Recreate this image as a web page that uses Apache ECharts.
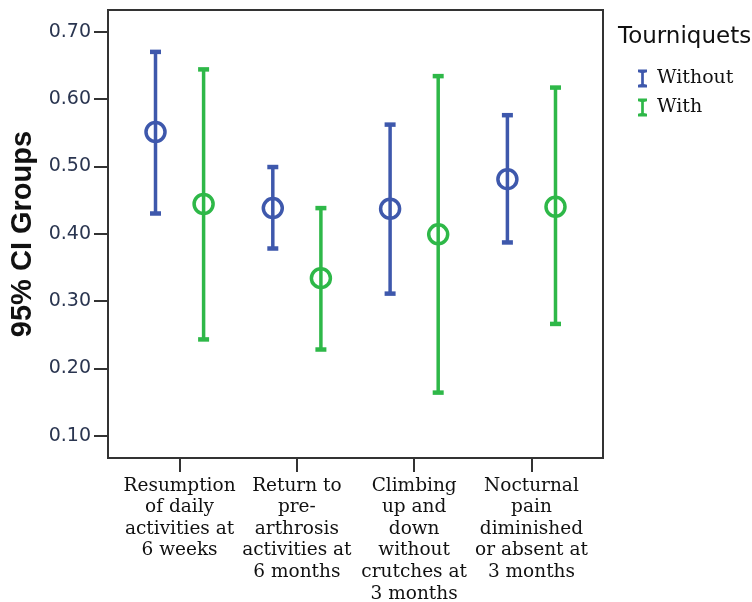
<!DOCTYPE html>
<html>
<head>
<meta charset="utf-8">
<script src="https://cdn.jsdelivr.net/npm/echarts@6/dist/echarts.min.js"></script>
<style>
  html, body { margin: 0; padding: 0; background: #fff; }
  #chart { width: 752px; height: 602px; }
</style>
</head>
<body>
<div id="chart"></div>
<script>
// Outcome categories (x axis)
var categories = [
  'Resumption\nof daily\nactivities at\n6 weeks',
  'Return to\npre-\narthrosis\nactivities at\n6 months',
  'Climbing\nup and\ndown\nwithout\ncrutches at\n3 months',
  'Nocturnal\npain\ndiminished\nor absent at\n3 months'
];

// 95% confidence intervals: lower bound, mean, upper bound
var withoutLow  = [0.430, 0.378, 0.311, 0.387];
var withoutMean = [0.551, 0.438, 0.437, 0.481];
var withoutHigh = [0.670, 0.499, 0.562, 0.576];

var withLow  = [0.243, 0.228, 0.164, 0.266];
var withMean = [0.444, 0.334, 0.399, 0.440];
var withHigh = [0.644, 0.438, 0.634, 0.617];

// y axis tick values
var yTicks = [0.10, 0.20, 0.30, 0.40, 0.50, 0.60, 0.70];

var seriesNames = ['Without', 'With'];
var seriesColors = ['#3E58AC', '#2EB848'];
var groupOffset = [-0.205, 0.205];

function buildData(low, mean, high) {
  return categories.map(function (c, i) { return [i, low[i], mean[i], high[i]]; });
}

function makeRender(k) {
  return function (params, api) {
    var x = api.value(0) + groupOffset[k];
    var lo = api.coord([x, api.value(1)]);
    var mid = api.coord([x, api.value(2)]);
    var hi = api.coord([x, api.value(3)]);
    var color = seriesColors[k];
    var capHalf = 5.5;
    var line = { stroke: color, lineWidth: 3.5 };
    return {
      type: 'group',
      children: [
        { type: 'line', shape: { x1: lo[0], y1: lo[1], x2: hi[0], y2: hi[1] }, style: line },
        { type: 'line', shape: { x1: hi[0] - capHalf, y1: hi[1], x2: hi[0] + capHalf, y2: hi[1] }, style: { stroke: color, lineWidth: 4.5 } },
        { type: 'line', shape: { x1: lo[0] - capHalf, y1: lo[1], x2: lo[0] + capHalf, y2: lo[1] }, style: { stroke: color, lineWidth: 4.5 } },
        { type: 'circle', shape: { cx: mid[0], cy: mid[1], r: 9.5 }, style: { fill: 'none', stroke: color, lineWidth: 3.5 } }
      ]
    };
  };
}

// I-beam glyph used as the legend marker
var errorIcon = 'path://M0,0 L10,0 L10,3 L6.5,4 L6.5,16 L10,17 L10,20 L0,20 L0,17 L3.5,16 L3.5,4 L0,3 Z';

var chart = echarts.init(document.getElementById('chart'), null, { renderer: 'canvas' });

chart.setOption({
  animation: false,
  backgroundColor: '#ffffff',
  title: {
    text: 'Tourniquets',
    left: 618,
    top: 26,
    padding: 0,
    textStyle: { fontFamily: 'DejaVu Sans', fontSize: 23, fontWeight: 'normal', color: '#111' }
  },
  legend: {
    left: 638,
    top: 69,
    orient: 'vertical',
    itemWidth: 9,
    itemHeight: 19,
    itemGap: 10,
    padding: 0,
    data: seriesNames.map(function (n) { return { name: n, icon: errorIcon }; }),
    textStyle: { fontFamily: 'DejaVu Serif', fontSize: 19, color: '#111', padding: [0, 0, 0, 5] }
  },
  grid: {
    left: 108,
    top: 10,
    right: 149,
    bottom: 144,
    outerBoundsMode: 'none',
    containLabel: false,
    show: true,
    borderColor: '#333',
    borderWidth: 2,
    backgroundColor: 'transparent'
  },
  xAxis: {
    type: 'value',
    min: -0.61,
    max: 3.61,
    splitLine: { show: false },
    axisLine: { show: true, onZero: false, lineStyle: { color: '#333', width: 2 } },
    axisTick: { show: true, length: 14, lineStyle: { color: '#333', width: 2 }, customValues: [0, 1, 2, 3] },
    axisLabel: {
      customValues: [0, 1, 2, 3],
      formatter: function (v) { return categories[Math.round(v)]; },
      margin: 17,
      fontFamily: 'DejaVu Serif',
      fontSize: 18.5,
      lineHeight: 21.6,
      color: '#111',
      align: 'center',
      verticalAlign: 'top'
    }
  },
  yAxis: {
    type: 'value',
    min: 0.0669,
    max: 0.7322,
    name: '95% CI Groups',
    nameLocation: 'middle',
    nameGap: 71,
    nameTextStyle: { fontFamily: 'Liberation Sans', fontWeight: 'bold', fontSize: 29, color: '#111' },
    splitLine: { show: false },
    axisLine: { show: true, onZero: false, lineStyle: { color: '#333', width: 2 } },
    axisTick: { show: true, length: 14, lineStyle: { color: '#333', width: 2 }, customValues: yTicks },
    axisLabel: {
      customValues: yTicks,
      formatter: function (v) { return v.toFixed(2); },
      margin: 17,
      fontFamily: 'DejaVu Sans',
      fontSize: 19,
      color: '#2a3550'
    }
  },
  series: [
    {
      name: seriesNames[0],
      type: 'custom',
      itemStyle: { color: seriesColors[0] },
      renderItem: makeRender(0),
      encode: { x: 0, y: [1, 2, 3] },
      data: buildData(withoutLow, withoutMean, withoutHigh)
    },
    {
      name: seriesNames[1],
      type: 'custom',
      itemStyle: { color: seriesColors[1] },
      renderItem: makeRender(1),
      encode: { x: 0, y: [1, 2, 3] },
      data: buildData(withLow, withMean, withHigh)
    }
  ]
});
</script>
</body>
</html>
